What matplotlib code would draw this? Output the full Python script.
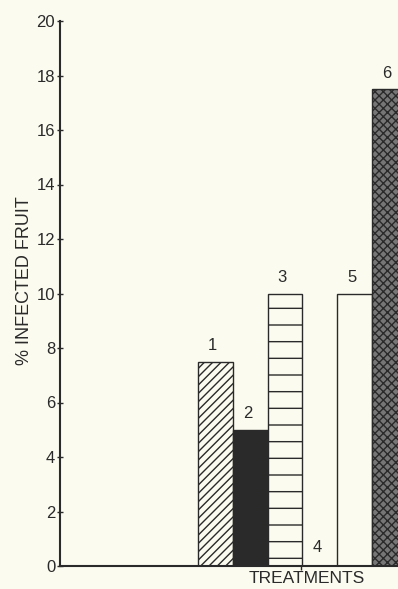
import matplotlib
matplotlib.use('Agg')
import matplotlib.pyplot as plt

# ── Data ─────────────────────────────────────────────
treatments = ['1', '2', '3', '4', '5', '6']
infected_pct = [7.5, 5.0, 10.0, 0.0, 10.0, 17.5]
y_ticks = [0, 2, 4, 6, 8, 10, 12, 14, 16, 18, 20]

# ── Styles ───────────────────────────────────────────
BG = '#fcfbf0'
INK = '#2a2a2a'
hatches = ['////', '', '-', '', '', 'xxxx']
faces = [BG, INK, BG, BG, BG, '#767676']

plt.rcParams['font.family'] = ['Liberation Sans', 'DejaVu Sans']
plt.rcParams['hatch.linewidth'] = 1.0

fig = plt.figure(figsize=(3.98, 5.89), dpi=100, facecolor=BG)
ax = fig.add_axes([60 / 398, 23 / 589, 338 / 398, 545 / 589], facecolor=BG)

xs = list(range(1, len(treatments) + 1))
bars = ax.bar(xs, infected_pct, width=1.0, color=faces, edgecolor=INK,
              hatch=hatches, linewidth=1.0)

for x, v, lab in zip(xs, infected_pct, treatments):
    ax.annotate(lab, (x, v), xytext=(-2, 6 if v > 0 else 8),
                textcoords='offset points', ha='center', va='bottom',
                fontsize=12, color=INK)

ax.set_xlim(-3.466, 6.247)
ax.set_ylim(0, 20)
ax.set_yticks(y_ticks)
ax.set_xticks([3.45])
ax.set_xticklabels([''])
ax.tick_params(axis='y', direction='inout', length=5, width=1, colors=INK,
               labelsize=12, pad=1)
ax.tick_params(axis='x', direction='out', length=3, width=1, colors=INK)

for s in ['top', 'right']:
    ax.spines[s].set_visible(False)
for s in ['left', 'bottom']:
    ax.spines[s].set_color(INK)
    ax.spines[s].set_linewidth(1.5)

ax.set_ylabel('% INFECTED FRUIT', fontsize=13, color=INK)
ax.yaxis.set_label_coords(-0.08, 0.523)
ax.set_xlabel('TREATMENTS', fontsize=12.5, color=INK)
ax.xaxis.set_label_coords((307 - 60) / 338, -0.01)

fig.savefig('out.png', dpi=100, facecolor=BG)
